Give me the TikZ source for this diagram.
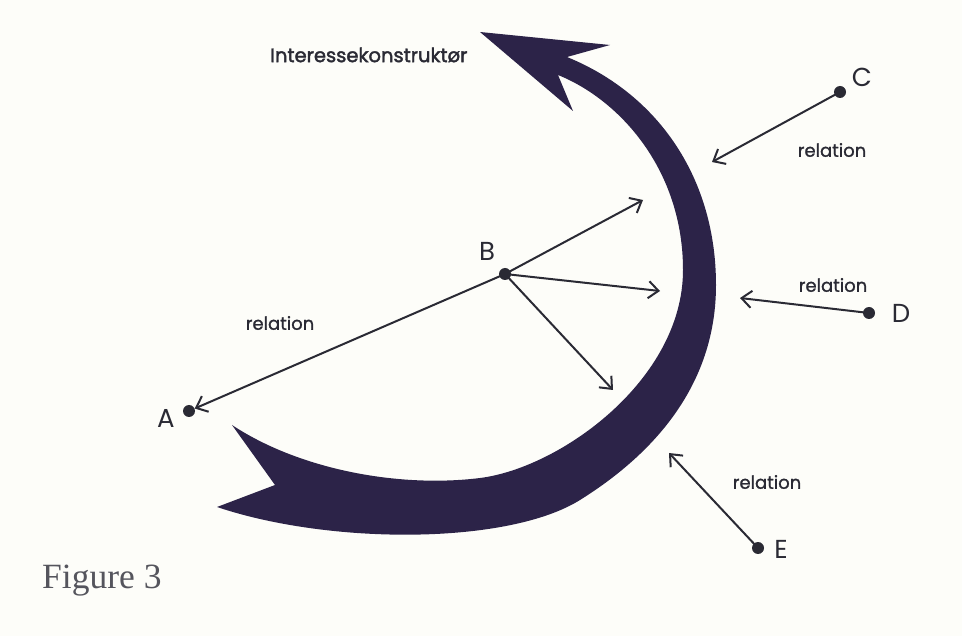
\documentclass[tikz,border=0pt]{standalone}
\usepackage{fontspec}
\setmainfont{Liberation Serif}
\newfontfamily\labelfont[FakeBold=1.2]{Poppins}
\newfontfamily\titlefont[FakeBold=2]{Poppins}
\newfontfamily\letterfont{Poppins}
\usetikzlibrary{arrows.meta}
\definecolor{bandcol}{RGB}{44,35,72}
\definecolor{inkcol}{RGB}{42,42,52}
\definecolor{paper}{RGB}{253,253,249}
\tikzset{
  dot/.style={circle,fill=inkcol,inner sep=0pt,minimum size=12pt},
  rel/.style={draw=inkcol,line width=2pt,-{Straight Barb[length=10pt,width=17pt,line width=2pt]}},
  lbl/.style={text=inkcol,font=\labelfont\fontsize{18}{20}\selectfont,inner sep=0pt},
  letter/.style={text=inkcol,font=\letterfont\fontsize{26}{28}\selectfont,inner sep=0pt},
}
\begin{document}
\begin{tikzpicture}[x=1pt,y=-1pt]
\fill[paper] (0,0) rectangle (962,636);
\useasboundingbox (0,0) rectangle (962,636);
% big curved arrow
\fill[bandcol] (480,32) -- (610,45) -- (567,57)
  .. controls (660,95) and (716,180) .. (716,285)
  .. controls (716,380) and (660,450) .. (580,500)
  .. controls (508,545) and (330,545) .. (217,507)
  -- (275,485) -- (232,425)
  .. controls (300,470) and (400,488) .. (480,478)
  .. controls (560,468) and (683,380) .. (683,270)
  .. controls (683,170) and (620,100) .. (558,75)
  -- (573,111) -- cycle;
% points
\node[dot] (A) at (189,411) {};
\node[dot] (B) at (505,274) {};
\node[dot] (C) at (840,92) {};
\node[dot] (D) at (869,313) {};
\node[dot] (E) at (758,548) {};
\coordinate (b1) at (643,200);
\coordinate (b2) at (660,291);
\coordinate (b3) at (613,390);
\coordinate (c1) at (712,162);
\coordinate (d1) at (740,298);
\coordinate (e1) at (669,453);
\draw[rel] (B.center) -- (A);
\draw[rel] (B.center) -- (b1);
\draw[rel] (B.center) -- (b2);
\draw[rel] (B.center) -- (b3);
\draw[rel] (C.center) -- (c1);
\draw[rel] (D.center) -- (d1);
\draw[rel] (E.center) -- (e1);
% letters
\node[letter] (lA) at (166,418) {A};
\node[letter] (lB) at (487,251) {B};
\node[letter] (lC) at (862,77) {C};
\node[letter] (lD) at (901,313) {D};
\node[letter] (lE) at (781,549) {E};
% labels
\node[lbl] (r1) at (280,323) {relation};
\node[lbl] (r2) at (832,150) {relation};
\node[lbl] (r3) at (833,285) {relation};
\node[lbl] (r4) at (767,482) {relation};
\node[anchor=west,text=inkcol,font=\titlefont\fontsize{19.5}{22}\selectfont,inner sep=0pt] (title) at (270,55) {Interessekonstruktør};
\node[anchor=base west,text=inkcol!80,font=\fontsize{35.5}{38}\selectfont,inner sep=0pt] (fig) at (42,588) {Figure 3};
\end{tikzpicture}
\end{document}
